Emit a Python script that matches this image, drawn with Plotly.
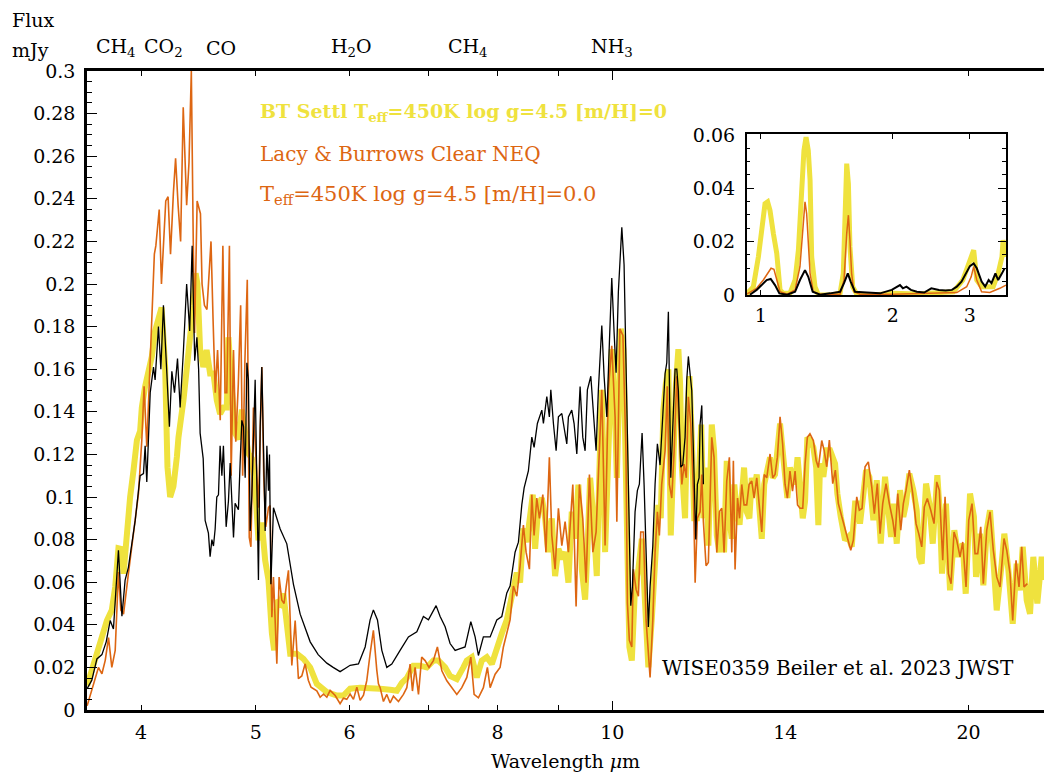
import numpy as np
import plotly.graph_objects as go

# ---------------- main panel data (wavelength in micron, flux in mJy) ----------------
obs_lam = [3.601,3.634,3.670,3.706,3.737,3.766,3.790,3.827,3.853,3.877,3.902,3.954,3.992,4.018,4.031,4.044,
           4.071,4.097,4.110,4.137,4.156,4.177,4.205,4.226,4.246,4.268,4.293,4.315,4.343,4.370,4.396,4.417,
           4.439,4.458,4.473,4.486,4.513,4.530,4.559,4.574,4.590,4.604,4.619,4.634,4.649,4.664,4.680,4.694,
           4.719,4.740,4.756,4.772,4.787,4.802,4.833,4.849,4.865,4.881,4.897,4.913,4.928,4.945,4.961,4.993,
           5.009,5.025,5.042,5.058,5.074,5.091,5.108,5.124,5.134,5.148,5.174,5.242,5.310,5.379,5.450,5.557,
           5.644,5.740,5.811,5.890,5.948,6.006,6.104,6.184,6.244,6.284,6.334,6.388,6.450,6.513,6.619,6.727,
           6.838,6.926,6.994,7.040,7.099,7.155,7.225,7.295,7.367,7.439,7.511,7.595,7.659,7.708,7.783,7.886,
           7.989,8.067,8.146,8.198,8.278,8.332,8.387,8.425,8.495,8.552,8.590,8.645,8.720,8.747,8.805,8.849,
           8.874,8.919,8.966,9.006,9.066,9.094,9.154,9.183,9.243,9.285,9.334,9.394,9.443,9.486,9.528,9.592,
           9.640,9.691,9.734,9.799,9.843,9.895,9.945,9.991,10.036,10.075,10.120,10.188,10.233,10.27,10.319,
           10.367,10.400,10.454,10.501,10.542,10.598,10.639,10.695,10.728,10.764,10.821,10.869,10.918,10.975,
           11.033,11.083,11.119,11.154,11.206,11.250,11.300,11.338,11.373,11.426,11.47,11.522,11.56,11.596,
           11.63,11.673,11.710,11.764,11.801,11.840,11.863,11.903,11.940]
obs_flux = [0.010,0.014,0.024,0.026,0.032,0.042,0.038,0.075,0.044,0.061,0.067,0.089,0.110,0.111,0.124,0.107,
            0.149,0.161,0.155,0.180,0.160,0.190,0.158,0.133,0.159,0.149,0.165,0.142,0.169,0.200,0.178,0.218,
            0.164,0.175,0.160,0.130,0.118,0.089,0.083,0.072,0.080,0.077,0.085,0.100,0.101,0.124,0.110,0.124,
            0.086,0.098,0.116,0.098,0.081,0.097,0.094,0.116,0.136,0.133,0.109,0.163,0.155,0.084,0.101,0.155,
            0.110,0.061,0.133,0.161,0.125,0.084,0.124,0.103,0.120,0.059,0.095,0.085,0.078,0.059,0.045,0.032,
            0.026,0.022,0.020,0.018,0.0195,0.021,0.0216,0.0296,0.0423,0.047,0.0423,0.028,0.020,0.0216,0.028,0.0343,
            0.0367,0.0439,0.0423,0.0455,0.049,0.0439,0.0391,0.0312,0.028,0.0288,0.0296,0.0415,0.0343,0.0256,0.0343,0.0343,
            0.0423,0.0439,0.055,0.0582,0.0741,0.0788,0.0963,0.1043,0.1122,0.1281,0.1233,0.1345,0.1408,0.1345,0.1472,0.1376,
            0.1503,0.1345,0.1217,0.1376,0.1392,0.1345,0.1249,0.1376,0.1408,0.1345,0.1202,0.1519,0.1281,0.1217,0.1503,0.1567,
            0.1376,0.1217,0.1503,0.1805,0.1567,0.1376,0.1726,0.2028,0.1774,0.1583,0.1964,0.2266,0.209,0.170,0.106,
            0.049,0.058,0.093,0.103,0.106,0.130,0.106,0.058,0.039,0.058,0.077,0.106,0.125,0.115,
            0.138,0.158,0.163,0.187,0.109,0.138,0.160,0.160,0.150,0.114,0.115,0.128,0.155,0.166,
            0.158,0.150,0.122,0.080,0.106,0.109,0.134,0.143,0.106]

bt_lam = [3.601,3.670,3.706,3.742,3.778,3.803,3.827,3.853,3.865,3.890,3.915,3.941,3.967,3.992,4.005,4.031,
          4.057,4.084,4.110,4.137,4.162,4.191,4.210,4.232,4.259,4.288,4.301,4.343,4.371,4.400,4.428,4.447,
          4.463,4.486,4.514,4.543,4.574,4.604,4.634,4.664,4.694,4.725,4.740,4.772,4.802,4.833,4.865,4.897,
          4.928,4.961,4.993,5.025,5.058,5.091,5.124,5.158,5.181,5.208,5.242,5.275,5.310,5.345,5.415,5.485,
          5.557,5.629,5.740,5.853,5.928,6.006,6.124,6.244,6.367,6.492,6.577,6.641,6.706,6.793,6.882,6.972,
          7.062,7.131,7.225,7.295,7.391,7.486,7.536,7.610,7.684,7.759,7.835,7.912,7.989,8.067,8.146,8.198,
          8.251,8.306,8.359,8.413,8.469,8.523,8.568,8.607,8.662,8.720,8.776,8.832,8.891,8.948,9.006,9.066,
          9.124,9.183,9.243,9.303,9.363,9.425,9.486,9.528,9.579,9.640,9.704,9.753,9.799,9.862,9.925,9.991,
          10.056,10.09,10.168,10.22,10.287,10.339,10.388,10.454,10.522,10.592,10.660,10.728,10.799,10.869,10.939,10.99,
          11.046,11.10,11.154,11.206,11.265,11.32,11.373,11.41,11.45,11.522,11.57,11.62,11.673,11.73,11.79,11.840,
          11.89,11.940,12.00,12.056,12.136,12.19,12.255,12.317,12.375,12.43,12.495,12.559,12.618,12.68,12.741,12.81,
          12.865,12.923,12.99,13.057,13.118,13.177,13.246,13.313,13.376,13.44,13.506,13.593,13.665,13.726,13.788,13.860,
          13.93,13.996,14.059,14.13,14.20,14.271,14.34,14.410,14.486,14.551,14.616,14.69,14.788,14.87,14.932,14.982,
          15.078,15.178,15.276,15.425,15.494,15.597,15.728,15.829,15.934,16.037,16.11,16.193,16.28,16.384,16.49,16.618,
          16.728,16.859,17.000,17.11,17.200,17.28,17.392,17.505,17.616,17.709,17.823,17.96,18.08,18.173,18.258,18.412,
          18.53,18.653,18.821,18.92,18.993,19.14,19.291,19.453,19.60,19.774,19.889,20.056,20.21,20.292,20.45,20.582,
          20.718,20.852,20.986,21.125,21.33,21.440,21.61,21.793,21.96,22.10,22.22,22.394,22.539,22.684,22.861,23.057,23.161]
bt_flux = [0.0115,0.0265,0.0336,0.042,0.047,0.0577,0.0759,0.0755,0.064,0.083,0.100,0.1126,0.1267,0.131,0.142,0.152,
           0.158,0.166,0.178,0.183,0.189,0.161,0.114,0.100,0.105,0.119,0.128,0.1455,0.160,0.172,0.190,0.205,
           0.200,0.169,0.161,0.169,0.158,0.158,0.1455,0.139,0.142,0.142,0.175,0.150,0.130,0.127,0.141,0.130,
           0.1205,0.118,0.1047,0.0797,0.088,0.0703,0.061,0.036,0.028,0.0515,0.050,0.0546,0.042,0.0264,0.0264,0.024,
           0.020,0.0123,0.0084,0.0068,0.0068,0.010,0.0105,0.0105,0.010,0.0095,0.009,0.0127,0.015,0.0208,0.0208,0.020,
           0.0232,0.0232,0.020,0.016,0.0145,0.020,0.0232,0.0248,0.0153,0.0232,0.0248,0.0216,0.0296,0.0359,0.0423,0.0502,
           0.0582,0.0645,0.0598,0.0852,0.0788,0.090,0.1011,0.0757,0.0963,0.0995,0.090,0.0741,0.090,0.0629,0.0757,0.0709,
           0.0741,0.0598,0.0931,0.0804,0.1058,0.0661,0.0518,0.0741,0.109,0.090,0.0629,0.1122,0.1503,0.0741,0.1217,0.1694,
           0.1376,0.109,0.179,0.1694,0.090,0.0296,0.0232,0.0582,0.066,0.0804,0.050,0.020,0.0423,0.0741,0.0963,0.090,
           0.1408,0.1535,0.160,0.082,0.1217,0.1535,0.1694,0.1535,0.1138,0.090,0.1376,0.1567,0.128,0.090,0.090,0.1217,
           0.134,0.090,0.1138,0.0772,0.134,0.1217,0.082,0.074,0.093,0.074,0.117,0.090,0.0804,0.1059,0.093,0.087,
           0.1027,0.1138,0.093,0.090,0.109,0.1027,0.1106,0.090,0.0804,0.1059,0.1106,0.1186,0.109,0.1106,0.1217,0.1345,
           0.1217,0.1059,0.0995,0.1138,0.109,0.1059,0.1186,0.0995,0.090,0.098,0.128,0.1265,0.1233,0.1138,0.0868,0.1157,
           0.1095,0.122,0.122,0.1157,0.1016,0.0907,0.0797,0.0813,0.0766,0.0969,0.0969,0.0875,0.0969,0.1126,0.1095,0.0891,
           0.1079,0.0781,0.1095,0.0907,0.0813,0.0969,0.0781,0.1032,0.0907,0.0969,0.111,0.1032,0.0938,0.0719,0.0687,0.1063,
           0.0969,0.0781,0.1102,0.0907,0.064,0.0969,0.0562,0.0844,0.0719,0.0781,0.0546,0.1016,0.0907,0.0625,0.0828,0.0585,
           0.0844,0.0938,0.0719,0.0468,0.0687,0.0828,0.0656,0.0405,0.0687,0.0562,0.0766,0.0515,0.0452,0.0719,0.050,0.0719,0.061]

lb_lam = [3.601,3.622,3.658,3.681,3.706,3.730,3.754,3.778,3.803,3.827,3.845,3.865,3.902,3.941,3.979,4.005,
          4.023,4.044,4.071,4.084,4.104,4.116,4.143,4.161,4.177,4.196,4.215,4.235,4.259,4.277,4.298,4.319,
          4.341,4.370,4.390,4.410,4.427,4.438,4.460,4.489,4.503,4.524,4.546,4.582,4.600,4.620,4.641,4.665,
          4.689,4.709,4.725,4.749,4.765,4.787,4.808,4.832,4.854,4.873,4.895,4.917,4.936,4.952,4.976,4.995,
          5.025,5.042,5.058,5.077,5.097,5.124,5.140,5.158,5.174,5.208,5.231,5.259,5.282,5.303,5.327,5.362,
          5.397,5.431,5.467,5.503,5.537,5.566,5.629,5.666,5.703,5.740,5.777,5.834,5.890,5.928,5.967,6.006,
          6.045,6.085,6.124,6.164,6.204,6.244,6.284,6.326,6.346,6.367,6.408,6.450,6.492,6.534,6.598,6.662,
          6.706,6.749,6.780,6.815,6.860,6.903,6.949,7.002,7.062,7.117,7.179,7.249,7.319,7.391,7.463,7.536,
          7.595,7.644,7.708,7.783,7.844,7.886,7.963,8.040,8.092,8.146,8.198,8.251,8.306,8.359,8.413,8.457,
          8.512,8.552,8.590,8.635,8.68,8.737,8.79,8.849,8.891,8.948,9.006,9.066,9.124,9.183,9.262,9.321,
          9.381,9.443,9.504,9.566,9.63,9.691,9.734,9.799,9.862,9.925,9.991,10.056,10.09,10.15,10.21,10.27,
          10.30,10.339,10.388,10.42,10.475,10.522,10.57,10.625,10.68,10.764,10.821,10.869,10.918,10.96,11.01,11.083,
          11.13,11.175,11.228,11.28,11.338,11.395,11.45,11.50,11.55,11.596,11.65,11.710,11.75,11.801,11.863,11.903,
          11.940,12.002,12.056,12.136,12.19,12.255,12.317,12.375,12.43,12.495,12.559,12.618,12.657,12.699,12.76,12.81,
          12.865,12.923,12.99,13.05,13.118,13.177,13.246,13.31,13.376,13.44,13.506,13.593,13.665,13.726,13.788,13.860,
          13.93,13.996,14.059,14.13,14.20,14.271,14.34,14.410,14.486,14.551,14.616,14.69,14.788,14.87,14.932,15.031,
          15.099,15.178,15.255,15.356,15.434,15.524,15.627,15.728,15.829,15.903,15.984,16.090,16.171,16.257,16.352,16.457,
          16.566,16.650,16.748,16.836,16.924,17.033,17.143,17.257,17.334,17.426,17.527,17.616,17.709,17.823,17.941,18.057,
          18.152,18.258,18.351,18.458,18.581,18.700,18.799,18.894,19.019,19.105,19.228,19.329,19.442,19.544,19.670,19.774,
          19.901,20.006,20.134,20.252,20.359,20.478,20.582,20.718,20.852,20.986,21.125,21.261,21.427,21.540,21.679,21.793,
          21.933,22.061,22.178,22.277,22.421]
lb_flux = [0.002,0.0068,0.0154,0.020,0.017,0.0233,0.034,0.020,0.028,0.0648,0.0468,0.045,0.064,0.0844,0.1016,0.1267,
           0.152,0.1236,0.161,0.180,0.214,0.218,0.235,0.200,0.220,0.239,0.241,0.214,0.243,0.259,0.237,0.220,
           0.283,0.237,0.257,0.300,0.218,0.177,0.239,0.233,0.200,0.190,0.188,0.220,0.184,0.149,0.169,0.136,
           0.218,0.149,0.149,0.218,0.110,0.169,0.126,0.153,0.190,0.110,0.165,0.202,0.081,0.0766,0.142,0.125,
           0.095,0.130,0.161,0.110,0.086,0.095,0.096,0.0436,0.0624,0.0217,0.0624,0.0515,0.050,0.0577,0.0656,0.0209,
           0.042,0.0147,0.016,0.0217,0.014,0.0107,0.009,0.006,0.0075,0.006,0.0092,0.0068,0.003,0.0055,0.005,0.0075,
           0.005,0.0107,0.0045,0.007,0.0139,0.0264,0.0374,0.0186,0.0123,0.0105,0.004,0.0073,0.0033,0.0065,0.004,0.0073,
           0.0105,0.0216,0.0089,0.020,0.0073,0.0248,0.0232,0.020,0.0232,0.0296,0.0184,0.0137,0.0105,0.0073,0.0105,0.0153,
           0.0248,0.0073,0.0057,0.0105,0.020,0.0105,0.0168,0.020,0.0296,0.0359,0.0423,0.0582,0.0534,0.0677,0.0868,0.0741,
           0.0661,0.1011,0.082,0.0995,0.090,0.1011,0.0741,0.1186,0.082,0.0661,0.0947,0.0772,0.0884,0.0741,0.1059,0.0486,
           0.1059,0.090,0.0598,0.1106,0.0741,0.0836,0.109,0.1503,0.0772,0.1503,0.171,0.1376,0.0884,0.179,0.1758,0.1217,
           0.0502,0.0327,0.0296,0.0661,0.0566,0.0534,0.0836,0.0836,0.0423,0.0153,0.0423,0.074,0.0931,0.082,0.1059,0.1217,
           0.152,0.1059,0.0995,0.1217,0.1567,0.1297,0.1059,0.1154,0.109,0.147,0.1345,0.1027,0.0598,0.090,0.093,0.1106,
           0.0884,0.0677,0.0693,0.128,0.1186,0.074,0.0931,0.0947,0.074,0.1075,0.1186,0.074,0.117,0.066,0.0995,0.090,
           0.1059,0.0963,0.0963,0.1059,0.1075,0.0995,0.109,0.0963,0.0836,0.1106,0.109,0.1202,0.109,0.1106,0.1186,0.1376,
           0.1249,0.1059,0.0995,0.1122,0.1027,0.1122,0.0963,0.0947,0.0947,0.1154,0.128,0.1297,0.1265,0.117,0.1138,0.1265,
           0.122,0.1142,0.1267,0.1063,0.1126,0.0969,0.0907,0.0844,0.0797,0.075,0.0797,0.1001,0.0938,0.0946,0.1142,0.1165,
           0.1048,0.0922,0.1063,0.0828,0.0969,0.1063,0.0969,0.0891,0.0813,0.1016,0.0844,0.0969,0.1032,0.1126,0.1016,0.0875,
           0.0828,0.0766,0.0954,0.0993,0.0938,0.0875,0.1071,0.1032,0.0703,0.1001,0.064,0.0593,0.0836,0.0797,0.0719,0.0789,
           0.0578,0.0891,0.0969,0.0734,0.0734,0.086,0.0593,0.0844,0.093,0.075,0.0625,0.0578,0.0805,0.075,0.064,0.042,
           0.0703,0.0578,0.0766,0.0578,0.0593]

# ---------------- inset data (near-IR) ----------------
in_bt_lam = [0.929,0.962,0.988,1.005,1.023,1.037,1.050,1.069,1.088,1.107,1.126,1.166,1.198,1.219,1.240,1.255,
             1.269,1.284,1.296,1.307,1.330,1.354,1.439,1.517,1.543,1.560,1.571,1.585,1.598,1.621,1.655,1.80,
             2.007,2.27,2.476,2.752,2.89,2.97,3.02,3.06,3.11,3.19,3.28,3.39,3.48,3.55,3.57,3.626]
in_bt_flux = [0.0004,0.003,0.0143,0.0255,0.0342,0.0349,0.0317,0.023,0.0156,0.0019,0.0006,0.0006,0.0056,0.0168,0.0417,0.0541,
              0.0591,0.0541,0.043,0.0143,0.0031,0.0,0.0,0.0006,0.0081,0.0355,0.0492,0.0417,0.018,0.0031,0.0004,0.0,
              0.0006,0.0004,0.0006,0.0012,0.0056,0.0106,0.0143,0.0168,0.0056,0.0031,0.0031,0.0031,0.0081,0.0143,0.0205,0.0143]
in_lb_lam = [0.929,0.979,1.014,1.041,1.056,1.072,1.088,1.107,1.15,1.198,1.229,1.247,1.262,1.273,1.284,1.296,
             1.318,1.366,1.517,1.549,1.571,1.585,1.598,1.612,1.632,1.685,2.0,2.476,2.80,2.95,3.02,3.06,
             3.11,3.19,3.33,3.51,3.626]
in_lb_flux = [0.0003,0.0025,0.0056,0.0083,0.010,0.0096,0.0056,0.0012,0.0003,0.0019,0.0106,0.023,0.0349,0.0305,0.018,0.0081,
              0.0012,0.0003,0.0003,0.0056,0.023,0.0299,0.0205,0.0081,0.0012,0.0003,0.0003,0.0007,0.0009,0.0031,0.0068,0.0106,
              0.0056,0.0012,0.0009,0.0025,0.0037]
in_obs_lam = [0.945,0.979,1.005,1.032,1.054,1.078,1.103,1.15,1.198,1.229,1.262,1.284,1.314,1.366,1.439,1.517,
              1.549,1.58,1.604,1.641,1.745,1.872,1.99,2.04,2.078,2.11,2.15,2.20,2.27,2.36,2.45,2.55,
              2.64,2.73,2.80,2.87,2.95,3.0,3.06,3.11,3.19,3.25,3.31,3.36,3.43,3.48,3.55,3.60]
in_obs_flux = [0.0001,0.0019,0.0037,0.0056,0.006,0.0037,0.0006,0.0001,0.0012,0.0056,0.0093,0.0068,0.0012,0.0001,0.0006,0.0012,
               0.0044,0.0081,0.005,0.0012,0.0009,0.0006,0.0019,0.0031,0.0037,0.0025,0.0031,0.0019,0.0012,0.0009,0.0025,0.0019,
               0.0017,0.0019,0.0031,0.005,0.0087,0.0108,0.0118,0.010,0.005,0.0031,0.0056,0.0044,0.0081,0.0056,0.0081,0.010]

# ---------------- labels ----------------
main_xtick_vals = [4, 5, 6, 8, 10, 14, 20]
main_xtick_text = ["4", "5", "6", "8", "10", "14", "20"]
main_minor_xticks = [4, 5, 6, 7, 8, 9, 20]
main_major_xticks = [10]
main_ytick_vals = [round(0.02 * i, 2) for i in range(16)]
main_ytick_text = ["0", "0.02", "0.04", "0.06", "0.08", "0.1", "0.12", "0.14", "0.16", "0.18",
                   "0.2", "0.22", "0.24", "0.26", "0.28", "0.3"]
inset_xtick_vals = [1, 2, 3]
inset_ytick_vals = [0, 0.02, 0.04, 0.06]
inset_ytick_text = ["0", "0.02", "0.04", "0.06"]

mol_labels = ["CH<sub>4</sub>", "CO<sub>2</sub>", "CO", "H<sub>2</sub>O", "CH<sub>4</sub>", "NH<sub>3</sub>"]
mol_lam = [3.81, 4.18, 4.67, 6.02, 7.56, 10.0]

YELLOW = "#EFE23E"
ORANGE = "#DD6612"
FONT = "DejaVu Serif"

fig = go.Figure()
fig.add_trace(go.Scatter(x=bt_lam, y=bt_flux, mode="lines", line=dict(color=YELLOW, width=6), showlegend=False))
fig.add_trace(go.Scatter(x=lb_lam, y=lb_flux, mode="lines", line=dict(color=ORANGE, width=1.6), showlegend=False))
# observed spectrum drawn on an overlaid copy of the x axis (same range) that carries the long tick at 10
fig.add_trace(go.Scatter(x=obs_lam, y=obs_flux, mode="lines", line=dict(color="black", width=1.3),
                         xaxis="x3", yaxis="y", showlegend=False))

fig.add_trace(go.Scatter(x=in_bt_lam, y=in_bt_flux, mode="lines", line=dict(color=YELLOW, width=5),
                         xaxis="x2", yaxis="y2", showlegend=False))
fig.add_trace(go.Scatter(x=in_lb_lam, y=in_lb_flux, mode="lines", line=dict(color=ORANGE, width=1.5),
                         xaxis="x2", yaxis="y2", showlegend=False))
fig.add_trace(go.Scatter(x=in_obs_lam, y=in_obs_flux, mode="lines", line=dict(color="black", width=2),
                         xaxis="x2", yaxis="y2", showlegend=False))

xr = [np.log10(3.60), np.log10(23.16)]

annotations = []
for lab, lam in zip(mol_labels, mol_lam):
    annotations.append(dict(text=lab, x=np.log10(lam), xref="x", y=1.036, yref="paper",
                            showarrow=False, xanchor="center", yanchor="middle",
                            font=dict(family=FONT, size=19, color="black")))
annotations += [
    dict(text="Flux", x=-0.0805, y=1.0798, xref="paper", yref="paper", showarrow=False,
         xanchor="left", yanchor="middle", font=dict(family=FONT, size=19, color="black")),
    dict(text="mJy", x=-0.0805, y=1.033, xref="paper", yref="paper", showarrow=False,
         xanchor="left", yanchor="middle", font=dict(family=FONT, size=19, color="black")),
    dict(text="<b>BT Settl T<sub>eff</sub>=450K log g=4.5 [m/H]=0</b>", x=0.1787, y=0.9346,
         xref="paper", yref="paper", showarrow=False, xanchor="left", yanchor="middle",
         font=dict(family=FONT, size=19, color=YELLOW)),
    dict(text="Lacy &amp; Burrows Clear NEQ", x=0.1787, y=0.8701,
         xref="paper", yref="paper", showarrow=False, xanchor="left", yanchor="middle",
         font=dict(family=FONT, size=20, color=ORANGE)),
    dict(text="T<sub>eff</sub>=450K log g=4.5 [m/H]=0.0", x=0.1787, y=0.806,
         xref="paper", yref="paper", showarrow=False, xanchor="left", yanchor="middle",
         font=dict(family=FONT, size=21, color=ORANGE)),
    dict(text="WISE0359 Beiler et al. 2023 JWST", x=0.5987, y=0.0657,
         xref="paper", yref="paper", showarrow=False, xanchor="left", yanchor="middle",
         font=dict(family=FONT, size=20, color="black")),
]

fig.update_layout(
    width=1044, height=774,
    margin=dict(l=87, r=0, t=71, b=64),
    paper_bgcolor="white", plot_bgcolor="white",
    font=dict(family=FONT, size=19, color="black"),
    showlegend=False,
    xaxis=dict(type="log", range=xr, showgrid=False, zeroline=False,
               showline=True, linecolor="black", linewidth=2.5, mirror="ticks",
               tickmode="array", tickvals=main_xtick_vals, ticktext=main_xtick_text,
               ticks="", ticklabelstandoff=3,
               minor=dict(tickmode="array", tickvals=main_minor_xticks, ticks="inside",
                          ticklen=5, tickwidth=1.3, tickcolor="black", showgrid=False),
               tickfont=dict(family=FONT, size=19, color="black"),
               title=dict(text="Wavelength <i>μ</i>m", standoff=14,
                          font=dict(family=FONT, size=19, color="black"))),
    xaxis3=dict(type="log", range=xr, overlaying="x", anchor="y", side="bottom",
                showgrid=False, zeroline=False, showline=False, mirror="ticks",
                tickmode="array", tickvals=main_major_xticks, showticklabels=False,
                ticks="inside", ticklen=9, tickwidth=1.3, tickcolor="black"),
    yaxis=dict(range=[0, 0.3], showgrid=False, zeroline=False,
               showline=True, linecolor="black", linewidth=2.5, mirror=False,
               tickmode="array", tickvals=main_ytick_vals, ticktext=main_ytick_text,
               ticks="inside", ticklen=10, tickwidth=1.3, tickcolor="black",
               ticklabelstandoff=5,
               minor=dict(dtick=0.005, ticks="inside", ticklen=5, tickwidth=1.2,
                          tickcolor="black", showgrid=False),
               tickfont=dict(family=FONT, size=19, color="black")),
    xaxis2=dict(type="log", domain=[0.6893, 0.9603], anchor="y2",
                range=[np.log10(0.929), np.log10(3.626)],
                showgrid=False, zeroline=False, showline=True, linecolor="black",
                linewidth=1.5, mirror="ticks", tickmode="array",
                tickvals=inset_xtick_vals, ticks="inside", ticklen=5, tickwidth=1.2,
                tickcolor="black", ticklabelstandoff=2,
                tickfont=dict(family=FONT, size=19, color="black")),
    yaxis2=dict(domain=[0.6495, 0.9009], anchor="x2", range=[0, 0.0602],
                showgrid=False, zeroline=False, showline=True, linecolor="black",
                linewidth=1.5, mirror="ticks", tickmode="array",
                tickvals=inset_ytick_vals, ticktext=inset_ytick_text,
                ticks="inside", ticklen=8, tickwidth=1.2, tickcolor="black",
                ticklabelstandoff=6,
                minor=dict(dtick=0.005, ticks="inside", ticklen=4, tickwidth=1.0,
                           tickcolor="black", showgrid=False),
                tickfont=dict(family=FONT, size=19, color="black")),
    annotations=annotations,
)

fig.write_html("out.html", config={"displayModeBar": False},
               post_script="document.body.style.margin='0px';")
